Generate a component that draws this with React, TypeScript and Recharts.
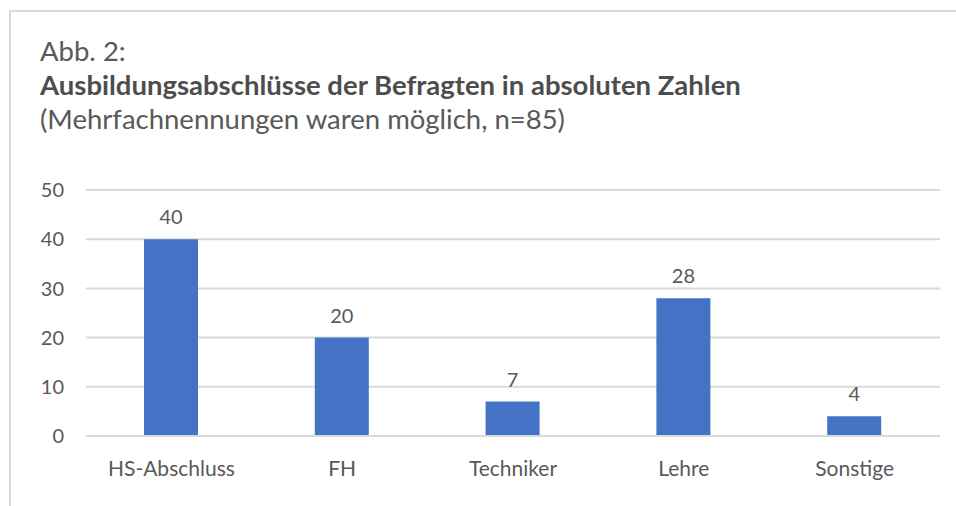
import React from 'react';
import { BarChart, Bar, XAxis, YAxis, CartesianGrid, LabelList } from 'recharts';

const categories = ['HS-Abschluss', 'FH', 'Techniker', 'Lehre', 'Sonstige'];
const counts = [40, 20, 7, 28, 4];
const yTicks = [0, 10, 20, 30, 40, 50];

const FONT = 'Lato, "Open Sans", sans-serif';
const TEXT = '#595959';

export default function App() {
  const data = categories.map((name, i) => ({ name, value: counts[i] }));

  return (
    <div style={{ position: 'fixed', left: 0, top: 0, width: 956, height: 506, background: '#fff', overflow: 'hidden', fontFamily: FONT }}>
      {/* outer frame, runs off the right and bottom edge */}
      <div style={{ position: 'absolute', left: 9, top: 10, width: 950, height: 520, border: '2px solid #d9d9d9' }} />

      <svg width={956} height={506} style={{ position: 'absolute', left: 0, top: 0 }}>
        <text x={40} y={61} fontSize={27.5} fill={TEXT} fontFamily={FONT}>Abb. 2:</text>
        <text x={40} y={95} fontSize={27.5} fontWeight="bold" fill="#4d4d4d" fontFamily={FONT}>
          Ausbildungsabschlüsse der Befragten in absoluten Zahlen
        </text>
        <text x={40} y={129} fontSize={27.5} fill={TEXT} fontFamily={FONT}>
          (Mehrfachnennungen waren möglich, n=85)
        </text>
      </svg>

      <div style={{ position: 'absolute', left: 0, top: 0 }}>
        <BarChart width={956} height={506} data={data} margin={{ top: 190, right: 16, bottom: 40, left: 0 }}>
          <CartesianGrid vertical={false} stroke="#d9d9d9" strokeWidth={2} />
          <XAxis
            dataKey="name"
            height={30}
            axisLine={{ stroke: '#d9d9d9', strokeWidth: 2 }}
            tickLine={false}
            tickMargin={19}
            tick={{ fill: TEXT, fontSize: 21, fontFamily: FONT }}
          />
          <YAxis
            width={86}
            domain={[0, 50]}
            ticks={yTicks}
            axisLine={false}
            tickLine={false}
            tickMargin={16}
            tick={{ fill: TEXT, fontSize: 20, fontFamily: FONT }}
          />
          <Bar dataKey="value" fill="#4472c4" barSize={54} isAnimationActive={false}>
            <LabelList dataKey="value" position="top" offset={15} fill={TEXT} fontSize={20} fontFamily={FONT} />
          </Bar>
        </BarChart>
      </div>
    </div>
  );
}
